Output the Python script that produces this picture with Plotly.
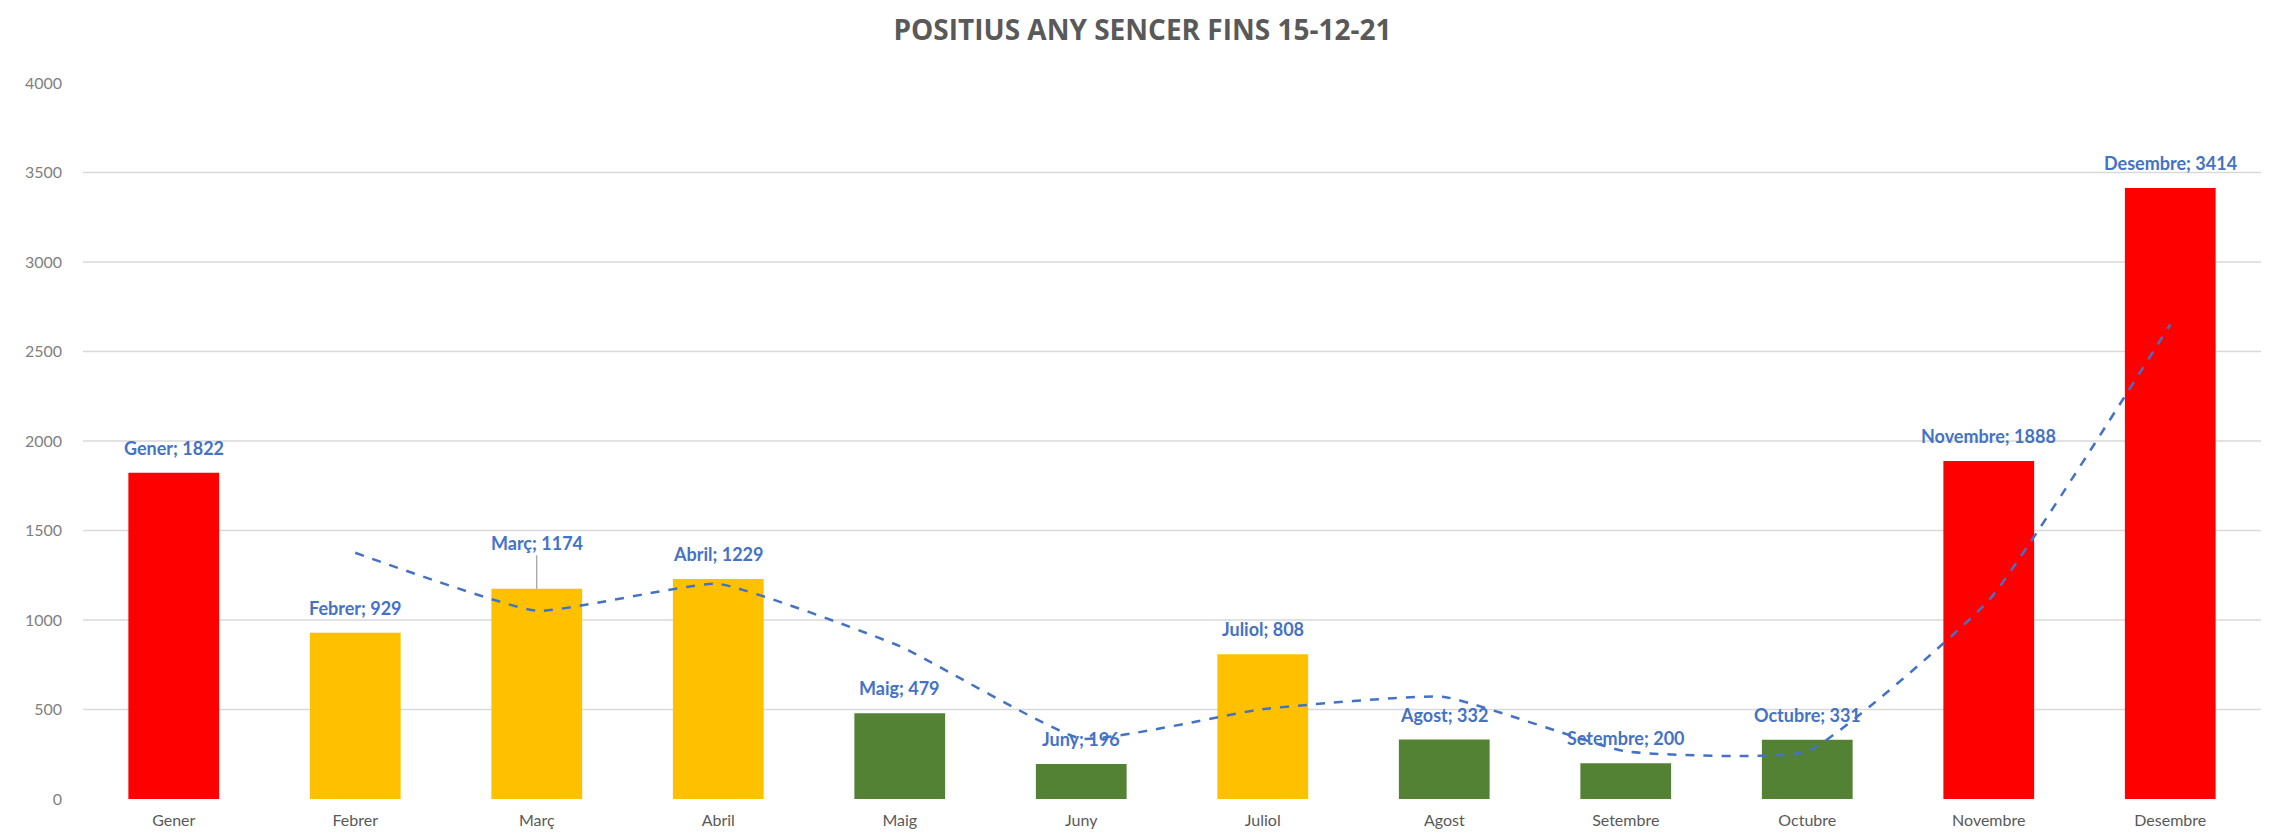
import plotly.graph_objects as go

months = ["Gener", "Febrer", "Març", "Abril", "Maig", "Juny", "Juliol",
          "Agost", "Setembre", "Octubre", "Novembre", "Desembre"]
positives = [1822, 929, 1174, 1229, 479, 196, 808, 332, 200, 331, 1888, 3414]
bar_colors = ["#FF0000", "#FFC000", "#FFC000", "#FFC000", "#548235", "#548235",
              "#FFC000", "#548235", "#548235", "#548235", "#FF0000", "#FF0000"]
# 2-period moving average trendline (as drawn), from Febrer onwards
trend_months = months[1:]
trend_values = [1375.5, 1051.5, 1201.5, 854, 337.5, 502, 570, 266, 265.5, 1109.5, 2651]
y_ticks = [0, 500, 1000, 1500, 2000, 2500, 3000, 3500, 4000]
grid_values = [500, 1000, 1500, 2000, 2500, 3000, 3500]

title_text = "POSITIUS ANY SENCER FINS 15-12-21"
label_color = "#4472C4"

fig = go.Figure()
fig.add_trace(go.Bar(
    x=months, y=positives, marker=dict(color=bar_colors, line=dict(width=0)),
    hoverinfo="x+y", showlegend=False,
))
fig.add_trace(go.Scatter(
    x=trend_months, y=trend_values, mode="lines",
    line=dict(color=label_color, width=2.5, dash="dash", shape="spline", smoothing=0.4),
    hoverinfo="skip", showlegend=False,
))

shapes = []
for g in grid_values:
    shapes.append(dict(type="line", xref="paper", x0=0, x1=1, yref="y", y0=g, y1=g,
                       line=dict(color="#D9D9D9", width=1.3), layer="below"))

annotations = []
for m, v in zip(months, positives):
    txt = f"<b>{m}; {v}</b>"
    if m == "Març":
        annotations.append(dict(x=m, y=v, text=txt, showarrow=True, arrowhead=0,
                                arrowwidth=1, arrowcolor="#8C8C8C", ax=0, ay=-46,
                                standoff=0, font=dict(family="Lato", size=18, color=label_color)))
    else:
        annotations.append(dict(x=m, y=v, text=txt, showarrow=False, yanchor="bottom",
                                yshift=12, font=dict(family="Lato", size=18, color=label_color)))

fig.update_layout(
    width=2269, height=833,
    paper_bgcolor="white", plot_bgcolor="white",
    margin=dict(l=75, r=16, t=75, b=36),
    title=dict(text=f"<b>{title_text}</b>", x=0.5, xref="container", xanchor="center",
               y=1 - 22 / 833, yref="container", yanchor="middle",
               font=dict(family="Open Sans", size=28, color="#595959")),
    bargap=0.5,
    shapes=shapes,
    annotations=annotations,
    xaxis=dict(showgrid=False, showline=False, zeroline=False, ticks="",
               tickfont=dict(family="Lato", size=16, color="#595959"),
               ticklabelstandoff=10),
    yaxis=dict(range=[0, 4000], tickvals=y_ticks, showgrid=False, zeroline=False,
               showline=False, ticks="",
               tickfont=dict(family="Lato", size=16, color="#7F7F7F"),
               ticklabelstandoff=20),
)

fig.write_html("out.html")
